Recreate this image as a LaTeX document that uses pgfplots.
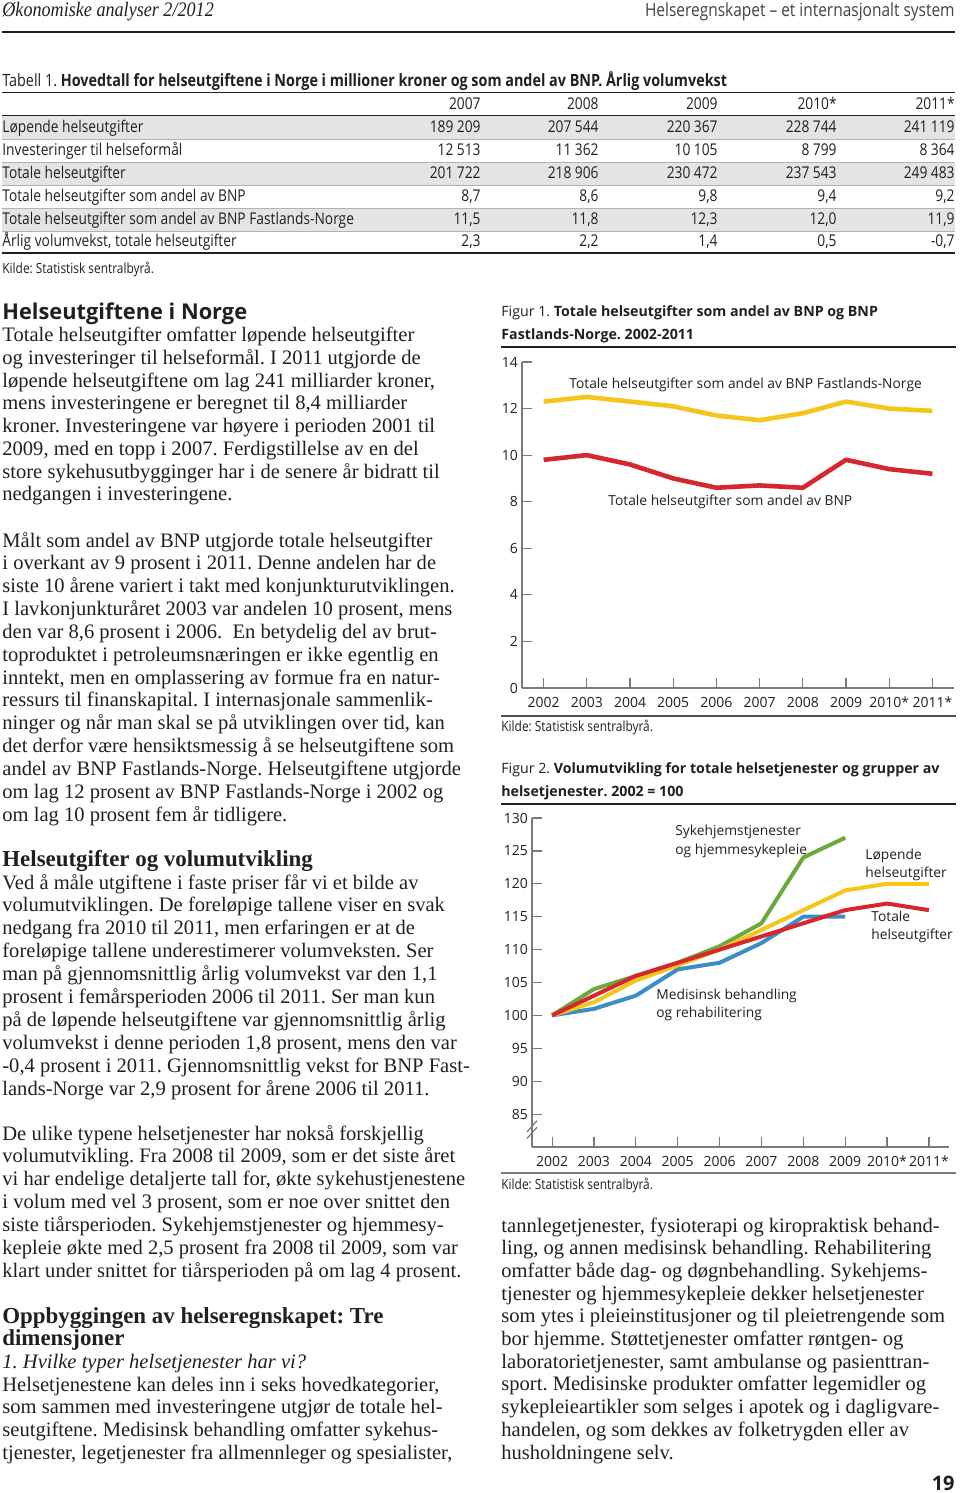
\documentclass[border=0pt]{standalone}
\usepackage{fontspec}
\setmainfont{Liberation Serif}
\newfontfamily\sans{Open Sans}
\newfontfamily\sanscond[FakeStretch=0.85]{Open Sans}
\newfontfamily\serifcond[FakeStretch=0.88]{Liberation Serif}
\usepackage{pgfplots}
\pgfplotsset{compat=1.18}
\frenchspacing
\definecolor{cred}{HTML}{D7272E}
\definecolor{cyel}{HTML}{F6C51B}
\definecolor{cgreen}{HTML}{6AAA3C}
\definecolor{cblue}{HTML}{3C8CC6}
\definecolor{txt}{HTML}{231F20}
\definecolor{rowshade}{HTML}{E4E4E5}
\definecolor{axgray}{HTML}{7A7A7A}
\newcommand\body{\fontsize{10.28}{12}\selectfont}
\newcommand\tabf{\sanscond\fontsize{8.1}{9}\selectfont}
\newcommand\labf{\sans\fontsize{6.9}{8}\selectfont}
\newcommand\kilde{\sanscond\fontsize{7}{8}\selectfont}
\newcommand\figt{\sans\fontsize{7.1}{8}\selectfont}
\newcommand\Lines[5]{\foreach \t [count=\i from 0] in {#5}{\node[anchor=base west, inner sep=0pt, font=#4, text=txt] at (#1,{#2+#3*\i}) {\t};}}
\pgfplotsset{pagestyle/.style={scale only axis, axis lines*=left,
  axis line style={axgray, line width=0.6pt, -}, tick style={axgray, line width=0.6pt},
  tick align=inside, major tick length=4.8pt,
  ticklabel style={font=\sans\fontsize{7}{8}\selectfont, text=txt},
  yticklabel style={xshift=1.5pt}, xticklabel style={yshift=-1pt},
  /pgf/number format/assume math mode=true,
  xtick={0,...,9}, xticklabels={2002,2003,2004,2005,2006,2007,2008,2009,2010*,2011*},
  clip=false}}
\begin{document}
\begin{tikzpicture}
\begin{scope}[x=0.5pt,y=-0.5pt]
\useasboundingbox (0,0) rectangle (960,1493);
\fill[white] (0,0) rectangle (960,1493);
% page header
\node[anchor=base west, inner sep=0pt, font=\serifcond\itshape\fontsize{10.3}{12}\selectfont, text=txt] at (2,17) {Økonomiske analyser 2/2012};
\node[anchor=base east, inner sep=0pt, font=\sanscond\fontsize{9.1}{10}\selectfont, text=txt!85] at (955,17) {Helseregnskapet – et internasjonalt system};
\draw[txt, line width=1.4pt] (2,32) -- (955,32);
% table
\node[anchor=base west, inner sep=0pt, font=\sanscond\fontsize{8.45}{9}\selectfont, text=txt] at (2,87) {Tabell 1. \bfseries Hovedtall for helseutgiftene i Norge i millioner kroner og som andel av BNP. Årlig volumvekst};
\fill[rowshade] (2,116) rectangle (955,139);
\fill[rowshade] (2,162) rectangle (955,185);
\fill[rowshade] (2,208) rectangle (955,231);
\draw[txt, line width=0.7pt] (2,92.5) -- (955,92.5);
\draw[txt, line width=0.5pt] (2,116) -- (955,116);
\foreach \yy in {139,162,185,208,231} {\draw[black!30, line width=0.3pt] (2,\yy) -- (955,\yy);}
\draw[txt, line width=1pt] (2,253) -- (955,253);
\foreach \cx/\lab in {481/2007,599/2008,718/2009,837/2010*,955/2011*} {\node[anchor=base east, inner sep=0pt, font=\tabf, text=txt] at (\cx,109.5) {\lab};}
\foreach \ry/\lab/\a/\b/\c/\d/\e in {
 132.5/Løpende helseutgifter/189 209/207 544/220 367/228 744/241 119,
 155.5/Investeringer til helseformål/12 513/11 362/10 105/8 799/8 364,
 178.5/Totale helseutgifter/201 722/218 906/230 472/237 543/249 483,
 201.5/Totale helseutgifter som andel av BNP/{8,7}/{8,6}/{9,8}/{9,4}/{9,2},
 224/Totale helseutgifter som andel av BNP Fastlands-Norge/{11,5}/{11,8}/{12,3}/{12,0}/{11,9},
 246.5/Årlig volumvekst{,} totale helseutgifter/{2,3}/{2,2}/{1,4}/{0,5}/{-0,7}} {
 \node[anchor=base west, inner sep=0pt, font=\tabf, text=txt] at (2,\ry) {\lab};
 \node[anchor=base east, inner sep=0pt, font=\tabf, text=txt] at (481,\ry) {\a};
 \node[anchor=base east, inner sep=0pt, font=\tabf, text=txt] at (599,\ry) {\b};
 \node[anchor=base east, inner sep=0pt, font=\tabf, text=txt] at (718,\ry) {\c};
 \node[anchor=base east, inner sep=0pt, font=\tabf, text=txt] at (837,\ry) {\d};
 \node[anchor=base east, inner sep=0pt, font=\tabf, text=txt] at (955,\ry) {\e};
}
\node[anchor=base west, inner sep=0pt, font=\kilde, text=txt] at (2,273) {Kilde: Statistisk sentralbyrå.};
% left column
\node[anchor=base west, inner sep=0pt, font=\sans\bfseries\fontsize{10.9}{12}\selectfont, text=txt] at (2,319) {Helseutgiftene i Norge};
\Lines{2}{341.5}{22.75}{\body}{{Totale helseutgifter omfatter løpende helseutgifter},{og investeringer til helseformål. I 2011 utgjorde de},{løpende helseutgiftene om lag 241 milliarder kroner,},{mens investeringene er beregnet til 8,4 milliarder},{kroner. Investeringene var høyere i perioden 2001 til},{2009, med en topp i 2007. Ferdigstillelse av en del},{store sykehusutbygginger har i de senere år bidratt til},{nedgangen i investeringene.}}
\Lines{2}{547}{22.85}{\body}{{Målt som andel av BNP utgjorde totale helseutgifter},{i overkant av 9 prosent i 2011. Denne andelen har de},{siste 10 årene variert i takt med konjunkturutviklingen.},{I lavkonjunkturåret 2003 var andelen 10 prosent, mens},{den var 8,6 prosent i 2006.\ \ En betydelig del av brut-},{toproduktet i petroleumsnæringen er ikke egentlig en},{inntekt, men en omplassering av formue fra en natur-},{ressurs til finanskapital. I internasjonale sammenlik-},{ninger og når man skal se på utviklingen over tid, kan},{det derfor være hensiktsmessig å se helseutgiftene som},{andel av BNP Fastlands-Norge. Helseutgiftene utgjorde},{om lag 12 prosent av BNP Fastlands-Norge i 2002 og},{om lag 10 prosent fem år tidligere.}}
\node[anchor=base west, inner sep=0pt, font=\bfseries\fontsize{11.45}{12}\selectfont, text=txt] at (2,866) {Helseutgifter og volumutvikling};
\Lines{2}{889}{22.9}{\body}{{Ved å måle utgiftene i faste priser får vi et bilde av},{volumutviklingen. De foreløpige tallene viser en svak},{nedgang fra 2010 til 2011, men erfaringen er at de},{foreløpige tallene underestimerer volumveksten. Ser},{man på gjennomsnittlig årlig volumvekst var den 1,1},{prosent i femårsperioden 2006 til 2011. Ser man kun},{på de løpende helseutgiftene var gjennomsnittlig årlig},{volumvekst i denne perioden 1,8 prosent, mens den var},{-0,4 prosent i 2011. Gjennomsnittlig vekst for BNP Fast-},{lands-Norge var 2,9 prosent for årene 2006 til 2011.}}
\Lines{2}{1140}{22.85}{\body}{{De ulike typene helsetjenester har nokså forskjellig},{volumutvikling. Fra 2008 til 2009, som er det siste året},{vi har endelige detaljerte tall for, økte sykehustjenestene},{i volum med vel 3 prosent, som er noe over snittet den},{siste tiårsperioden. Sykehjemstjenester og hjemmesy-},{kepleie økte med 2,5 prosent fra 2008 til 2009, som var},{klart under snittet for tiårsperioden på om lag 4 prosent.}}
\node[anchor=base west, inner sep=0pt, font=\bfseries\fontsize{11.45}{12}\selectfont, text=txt] at (2,1323) {Oppbyggingen av helseregnskapet: Tre};
\node[anchor=base west, inner sep=0pt, font=\bfseries\fontsize{11.45}{12}\selectfont, text=txt] at (2,1345.5) {dimensjoner};
\node[anchor=base west, inner sep=0pt, font=\itshape\fontsize{10.28}{12}\selectfont, text=txt] at (2,1368) {1. Hvilke typer helsetjenester har vi?};
\Lines{2}{1391}{22.75}{\body}{{Helsetjenestene kan deles inn i seks hovedkategorier,},{som sammen med investeringene utgjør de totale hel-},{seutgiftene. Medisinsk behandling omfatter sykehus-},{tjenester, legetjenester fra allmennleger og spesialister,}}
% right column
\node[anchor=base west, inner sep=0pt, font=\figt, text=txt] at (501,316) {Figur 1. \bfseries Totale helseutgifter som andel av BNP og BNP};
\node[anchor=base west, inner sep=0pt, font=\figt\bfseries, text=txt] at (501,339) {Fastlands-Norge. 2002-2011};
\draw[txt, line width=0.7pt] (501,347) -- (956,347);
\node[anchor=base west, inner sep=0pt, font=\labf, text=txt] at (569,388) {Totale helseutgifter som andel av BNP Fastlands-Norge};
\node[anchor=base west, inner sep=0pt, font=\labf, text=txt] at (608,505) {Totale helseutgifter som andel av BNP};
\draw[txt!80, line width=0.9pt] (501,716) -- (956,716);
\node[anchor=base west, inner sep=0pt, font=\kilde, text=txt] at (501,731) {Kilde: Statistisk sentralbyrå.};
\node[anchor=base west, inner sep=0pt, font=\figt, text=txt] at (501,773) {Figur 2. \bfseries Volumutvikling for totale helsetjenester og grupper av};
\node[anchor=base west, inner sep=0pt, font=\figt\bfseries, text=txt] at (501,796) {helsetjenester. 2002 = 100};
\draw[txt, line width=0.7pt] (501,804) -- (956,804);
\node[anchor=base west, inner sep=0pt, font=\labf, text=txt] at (675,835) {Sykehjemstjenester};
\node[anchor=base west, inner sep=0pt, font=\labf, text=txt] at (675,854) {og hjemmesykepleie};
\node[anchor=base west, inner sep=0pt, font=\labf, text=txt] at (865,859) {Løpende};
\node[anchor=base west, inner sep=0pt, font=\labf, text=txt] at (865,877) {helseutgifter};
\node[anchor=base west, inner sep=0pt, font=\labf, text=txt] at (871,921) {Totale};
\node[anchor=base west, inner sep=0pt, font=\labf, text=txt] at (871,939) {helseutgifter};
\node[anchor=base west, inner sep=0pt, font=\labf, text=txt] at (656,999) {Medisinsk behandling};
\node[anchor=base west, inner sep=0pt, font=\labf, text=txt] at (656,1017) {og rehabilitering};
\draw[txt!60, line width=1.1pt] (501,1173) -- (956,1173);
\node[anchor=base west, inner sep=0pt, font=\kilde, text=txt] at (501,1189) {Kilde: Statistisk sentralbyrå.};
\Lines{501}{1232}{22.7}{\body}{{tannlegetjenester, fysioterapi og kiropraktisk behand-},{ling, og annen medisinsk behandling. Rehabilitering},{omfatter både dag- og døgnbehandling. Sykehjems-},{tjenester og hjemmesykepleie dekker helsetjenester},{som ytes i pleieinstitusjoner og til pleietrengende som},{bor hjemme. Støttetjenester omfatter røntgen- og},{laboratorietjenester, samt ambulanse og pasienttran-},{sport. Medisinske produkter omfatter legemidler og},{sykepleieartikler som selges i apotek og i dagligvare-},{handelen, og som dekkes av folketrygden eller av},{husholdningene selv.}}
\node[anchor=base east, inner sep=0pt, font=\sans\bfseries\fontsize{10}{12}\selectfont, text=txt] at (955,1490) {19};
\end{scope}
% Figure 1
\begin{axis}[pagestyle, at={(261pt,-344pt)}, anchor=south west, width=216pt, height=163pt,
  xmin=-0.5, xmax=9.5, ymin=0, ymax=14, ytick={0,2,...,14}]
\addplot[cyel, line width=2.3pt, line join=round] coordinates {(0,12.3)(1,12.5)(2,12.3)(3,12.1)(4,11.7)(5,11.5)(6,11.8)(7,12.3)(8,12.0)(9,11.9)};
\addplot[cred, line width=2.3pt, line join=round] coordinates {(0,9.8)(1,10.0)(2,9.6)(3,9.0)(4,8.6)(5,8.7)(6,8.6)(7,9.8)(8,9.4)(9,9.2)};
\end{axis}
% Figure 2
\begin{axis}[pagestyle, at={(266pt,-573.5pt)}, anchor=south west, width=208.5pt, height=164.5pt,
  xmin=-0.48, xmax=9.48, ymin=80, ymax=130, ytick={85,90,...,130}]
\addplot[cgreen, line width=2pt, line join=round] coordinates {(0,100)(1,104)(2,106)(3,108)(4,110.5)(5,114)(6,124)(7,127)};
\addplot[cblue, line width=2pt, line join=round] coordinates {(0,100)(1,101)(2,103)(3,107)(4,108)(5,111)(6,115)(7,115)};
\addplot[cyel, line width=2pt, line join=round] coordinates {(0,100)(1,102)(2,105.3)(3,107.6)(4,110)(5,113)(6,116)(7,119)(8,120)(9,120)};
\addplot[cred, line width=2pt, line join=round] coordinates {(0,100)(1,103)(2,106)(3,108)(4,110)(5,112)(6,114)(7,116)(8,117)(9,116)};
\draw[axgray, line width=0.6pt] (axis cs:-0.6,81.3) -- (axis cs:-0.36,83.0);
\draw[axgray, line width=0.6pt] (axis cs:-0.6,82.3) -- (axis cs:-0.36,84.0);
\end{axis}
\end{tikzpicture}
\end{document}
